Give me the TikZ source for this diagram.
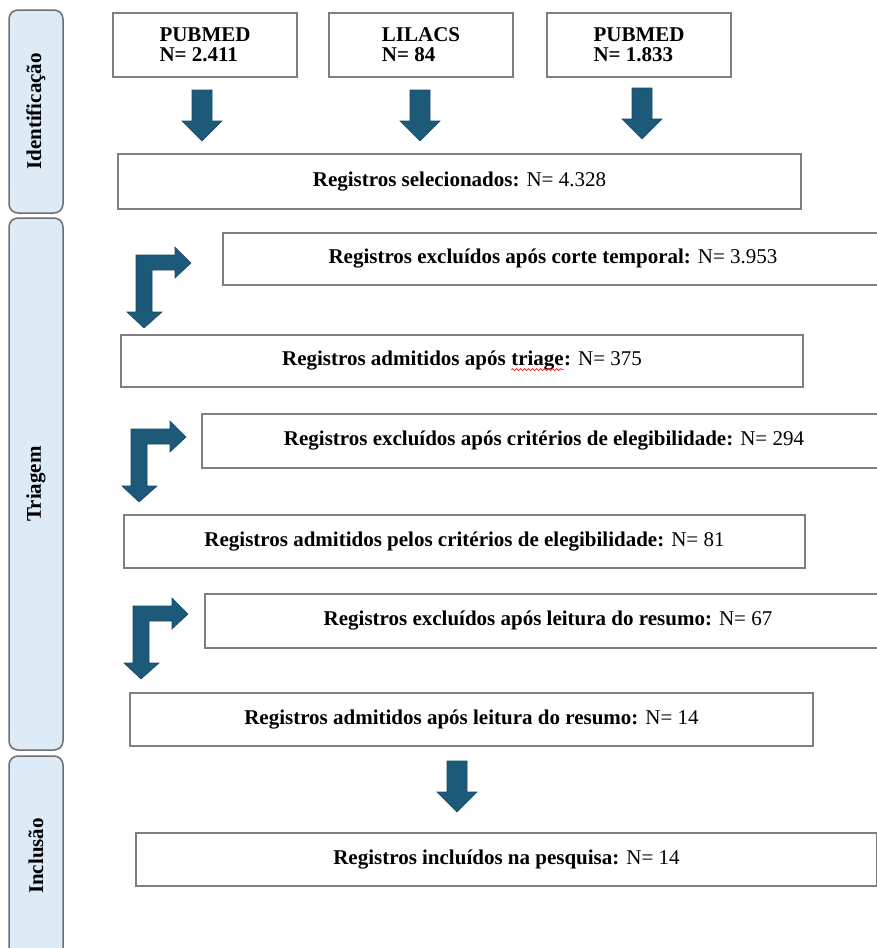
\documentclass[tikz,border=0pt]{standalone}
\usepackage{fontspec}
\setmainfont{Liberation Serif}
\usepackage{tikz}
\usepackage{xcolor}
\usetikzlibrary{positioning,decorations.pathmorphing}
\definecolor{Frame}{HTML}{7F7F7F}
\definecolor{Band}{HTML}{DDEBF7}
\definecolor{BandLine}{HTML}{6E6E6E}
\definecolor{Teal}{HTML}{1D5A7A}
\definecolor{TealDark}{HTML}{174A65}
\definecolor{Spell}{HTML}{E0201B}
\tikzset{
  box/.style={draw=Frame,line width=2pt,fill=white,anchor=north west,minimum height=53pt,align=center,font=\fontsize{21}{23}\selectfont,inner sep=0pt},
  srcbox/.style={box,minimum width=184pt,minimum height=64pt,align=left,font=\bfseries\fontsize{21}{20}\selectfont},
  band/.style={draw=BandLine,fill=Band,line width=1.5pt,rounded corners=9pt,rotate=90,minimum height=54pt,font=\bfseries\fontsize{21}{23}\selectfont},
  blockarr/.style={fill=Teal,draw=TealDark,line width=0.6pt,line join=miter},
  plainword/.style={draw=none,fill=none,inner sep=0pt,outer sep=0pt,minimum width=0pt,minimum height=0pt,anchor=base,font={}}
}
% straight block arrow, tip at (#1,#2)
\newcommand\downarr[2]{%
  \draw[blockarr] (#1-10,#2-51) -- (#1+10,#2-51) -- (#1+10,#2-20) -- (#1+20,#2-20)
    -- (#1,#2) -- (#1-20,#2-20) -- (#1-10,#2-20) -- cycle;}
% bent block arrow, outer corner at (#1,#2)
\newcommand\bentarr[2]{%
  \draw[blockarr] (#1,#2) -- (#1+39,#2) -- (#1+39,#2-8) -- (#1+55,#2+8) -- (#1+39,#2+23)
    -- (#1+39,#2+15) -- (#1+16,#2+15) -- (#1+16,#2+57) -- (#1+26,#2+57) -- (#1+8,#2+73)
    -- (#1-9,#2+57) -- (#1,#2+57) -- cycle;}
\newcommand\spellmark[1]{\tikz[baseline=(sw.base)]{\node[plainword] (sw) {#1};
  \draw[Spell,line width=0.7pt,decorate,decoration={snake,amplitude=1pt,segment length=4pt}]
    ([yshift=-4pt]sw.base west) -- ([yshift=-4pt]sw.base east);}}

\begin{document}
\begin{tikzpicture}[x=1pt,y=-1pt]
  \useasboundingbox (0,0) rectangle (877,948);
  % phases
  \node[band,minimum width=203pt] (idf) at (36,111.5) {Identificação};
  \node[band,minimum width=532pt] (tri) at (36,484) {Triagem};
  \node[band,minimum width=200pt] (inc) at (36,856) {Inclusão};
  % sources
  \node[srcbox] (pm1) at (112,12) {PUBMED\\N= 2.411};
  \node[srcbox,minimum width=184pt] (lil) at (328,12) {LILACS\\N= 84};
  \node[srcbox] (pm2) at (546,12) {PUBMED\\N= 1.833};
  % flow
  \node[box,minimum width=683pt,minimum height=55pt] (sel) at (117,153) {\textbf{Registros selecionados:} N= 4.328};
  \node[box,minimum width=660pt,minimum height=52pt] (exc1) at (222,232) {\textbf{Registros excluídos após corte temporal:} N= 3.953};
  \node[box,minimum width=682pt,minimum height=52pt] (adm1) at (120,334) {\textbf{Registros admitidos após \spellmark{triage}:} N= 375};
  \node[box,minimum width=684pt,minimum height=54pt] (exc2) at (201,413) {\textbf{Registros excluídos após critérios de elegibilidade:} N= 294};
  \node[box,minimum width=681pt] (adm2) at (123,514) {\textbf{Registros admitidos pelos critérios de elegibilidade:} N= 81};
  \node[box,minimum width=686pt,minimum height=54pt] (exc3) at (204,593) {\textbf{Registros excluídos após leitura do resumo:} N= 67};
  \node[box,minimum width=683pt] (adm3) at (129,692) {\textbf{Registros admitidos após leitura do resumo:} N= 14};
  \node[box,minimum width=741pt] (fin) at (135,832) {\textbf{Registros incluídos na pesquisa:} N= 14};
  % arrows
  \downarr{202}{141}
  \downarr{420}{141}
  \downarr{642}{139}
  \bentarr{136}{255}
  \bentarr{131}{429}
  \bentarr{133}{606}
  \downarr{457}{812}
\end{tikzpicture}
\end{document}
